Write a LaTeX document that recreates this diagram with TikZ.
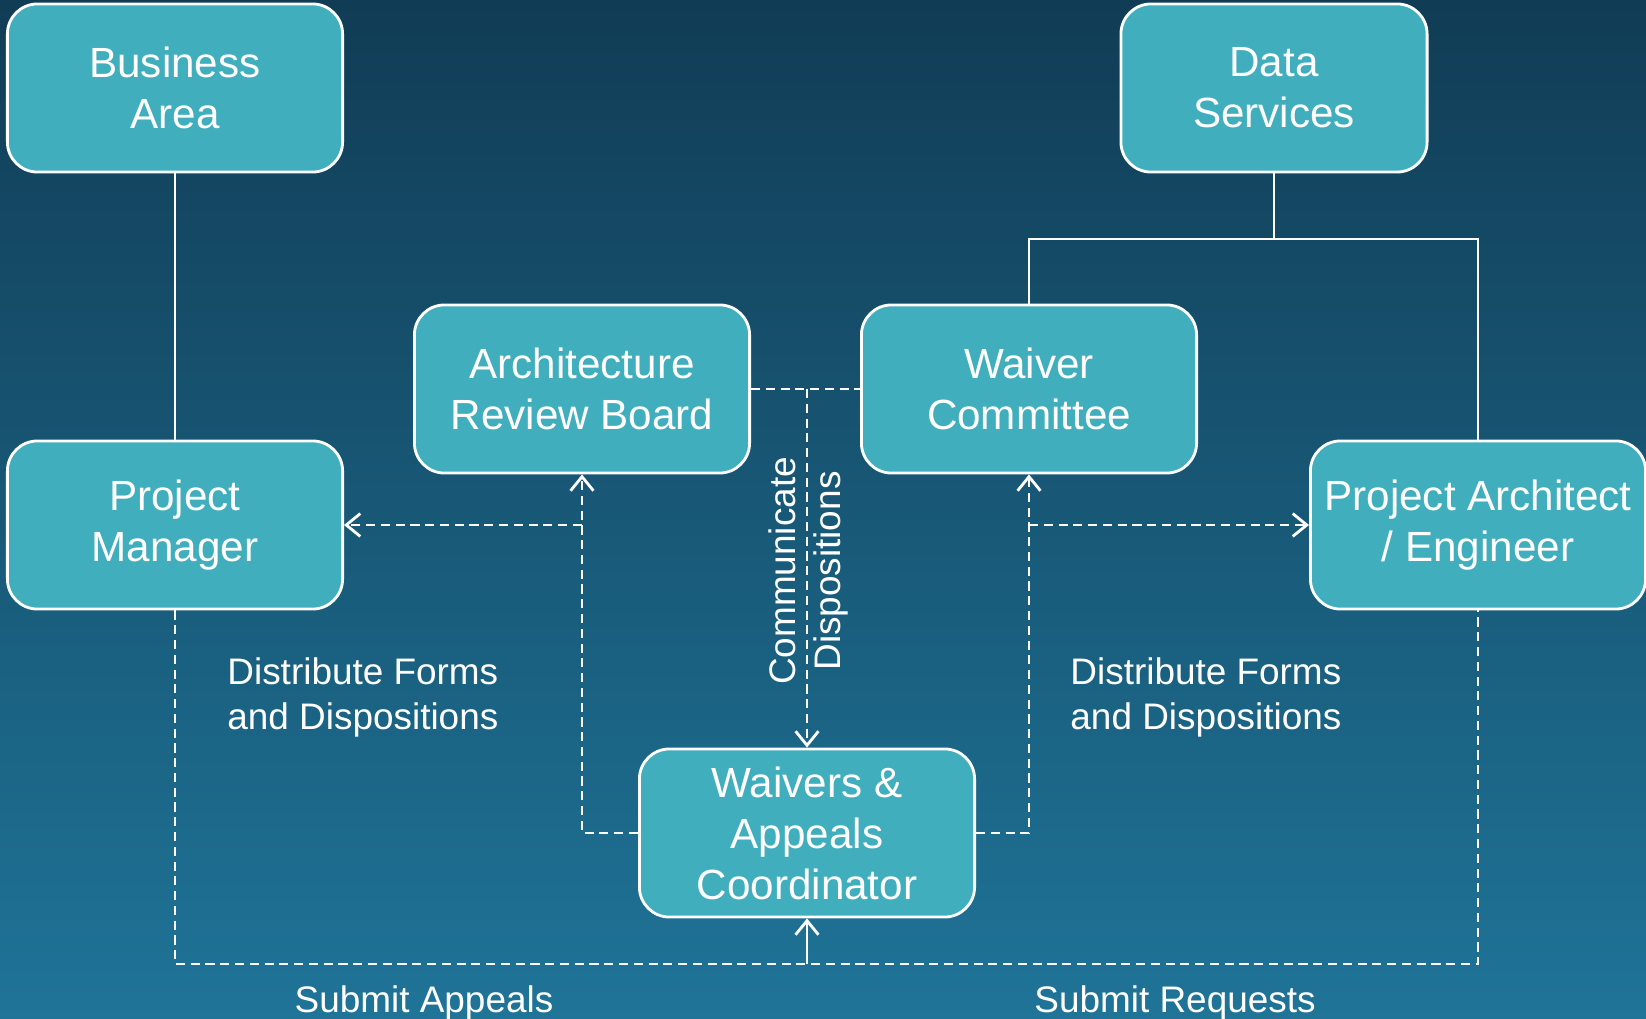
\documentclass[tikz,border=0pt]{standalone}
\usepackage{fontspec}
\setmainfont{Liberation Sans}
\usetikzlibrary{arrows.meta, calc}

\definecolor{boxfill}{RGB}{65,174,190}
\definecolor{bgtop}{RGB}{17,60,85}
\definecolor{bgbot}{RGB}{31,116,152}

\tikzset{
  role/.style={draw=white, line width=0.8pt, fill=boxfill, rounded corners=0.3cm,
    minimum width=3.35cm, minimum height=1.68cm, inner sep=0pt,
    align=center, text=white, font=\fontsize{12}{14.5}\selectfont},
  link/.style={draw=white, line width=0.8pt},
  flow/.style={draw=white, line width=0.8pt, dash pattern=on 2.6pt off 1.6pt},
  tip/.style={-{Straight Barb[length=4pt,width=6.5pt]}},
  note/.style={text=white, font=\fontsize{10.5}{12.8}\selectfont}
}

\begin{document}
\begin{tikzpicture}[x=0.01cm, y=-0.01cm]
        \useasboundingbox (0,0) rectangle (1646,1019);
        \shade[top color=bgtop, bottom color=bgbot] (0,0) rectangle (1646,1019);

        % roles
        \node[role] (ba) at (175,88) {Business\\Area};
        \node[role, minimum width=3.06cm] (ds) at (1274,88) {Data\\Services};
        \node[role] (arb) at (582,389) {Architecture\\Review Board};
        \node[role] (wc) at (1029,389) {Waiver\\Committee};
        \node[role] (pm) at (175,525) {Project\\Manager};
        \node[role] (pa) at (1478,525) {Project Architect\\/ Engineer};
        \node[role] (wac) at (807,833) {Waivers \&\\Appeals\\Coordinator};

        \coordinate (split) at (1274,239);
        \coordinate (cd) at (807,389);
        \coordinate (lc) at (582,525);
        \coordinate (rc) at (1029,525);
        \coordinate (bc) at (807,964);

        % reporting lines
        \draw[link] (ba) -- (pm);
        \draw[link] (ds.south) -- (split);
        \draw[link] (wc.north) |- (split) -| (pa.north);

        % flows
        \draw[flow] (arb.east) -- (wc.west);
        \draw[flow, tip] (cd) -- (wac.north);
        \draw[flow, tip] (wac.west) -| (arb.south);
        \draw[flow, tip] (lc) -- (pm.east);
        \draw[flow, tip] (wac.east) -| (wc.south);
        \draw[flow, tip] (rc) -- (pa.west);
        \draw[flow] (pm.south) |- (bc) -| (pa.south);
        \draw[link, tip] (bc) -- (wac.south);

        % labels
        \node[note, align=left, anchor=west] (dl) at (215,697) {Distribute Forms\\and Dispositions};
        \node[note, align=left, anchor=west] (dr) at (1058,697) {Distribute Forms\\and Dispositions};
        \node[note, align=center, rotate=90] (cm) at (808,571) {Communicate\\Dispositions};
        \node[note] (sa) at (424,1003) {Submit Appeals};
        \node[note] (sr) at (1175,1003) {Submit Requests};
\end{tikzpicture}
\end{document}
